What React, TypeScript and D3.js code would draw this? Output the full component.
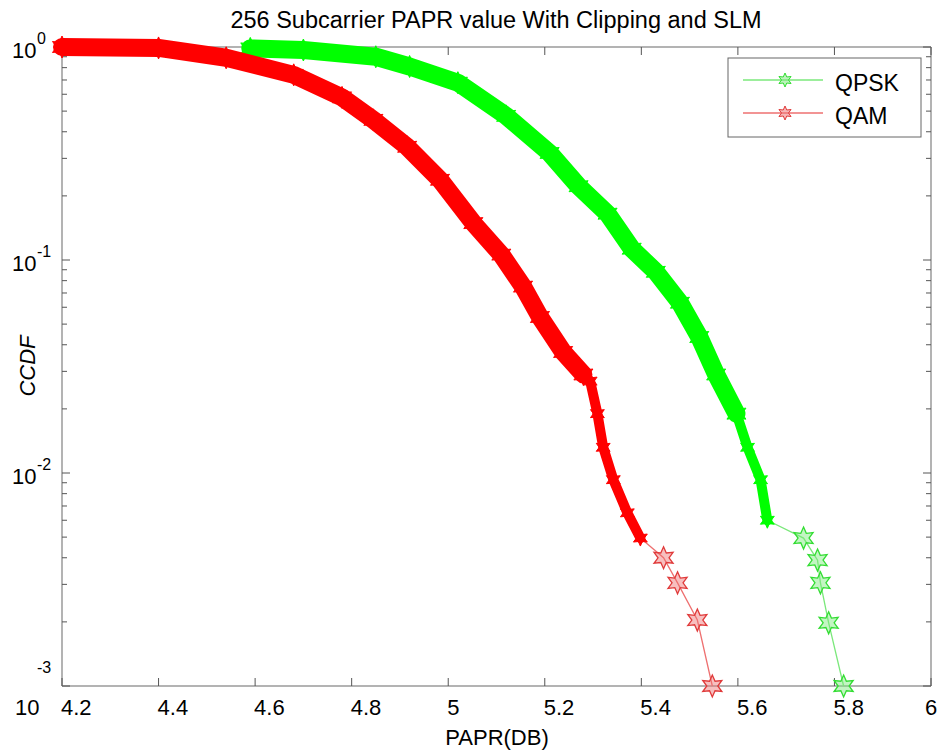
import React from "react";
import * as d3 from "d3";

const W = 938;
const H = 751;

const title = "256 Subcarrier PAPR value With Clipping and SLM";
const xLabel = "PAPR(DB)";
const yLabel = "CCDF";
const seriesNames = ["QPSK", "QAM"];

const xTicks = [4.2, 4.4, 4.6, 4.8, 5, 5.2, 5.4, 5.6, 5.8, 6];
const xTickLabels = ["4.2", "4.4", "4.6", "4.8", "5", "5.2", "5.4", "5.6", "5.8", "6"];
const yTicks = [1, 0.1, 0.01, 0.001];
const yExponents = ["0", "-1", "-2", "-3"];

// QPSK (green) – thick dense region, thinner dense region, sparse tail
const qpskDense: [number, number][] = [
  [4.59, 0.985], [4.7, 0.968], [4.85, 0.9], [4.92, 0.81], [5.02, 0.68],
  [5.12, 0.475], [5.21, 0.318], [5.27, 0.222], [5.33, 0.165], [5.38, 0.113],
  [5.43, 0.088], [5.48, 0.063], [5.52, 0.0435], [5.555, 0.029], [5.597, 0.019],
];
const qpskThin: [number, number][] = [
  [5.597, 0.019], [5.62, 0.0132], [5.647, 0.0093], [5.661, 0.006],
];
const qpskTail: [number, number][] = [
  [5.661, 0.006], [5.736, 0.00495], [5.765, 0.0039], [5.771, 0.00305],
  [5.788, 0.00198], [5.819, 0.001],
];

// QAM (red)
const qamDense: [number, number][] = [
  [4.2, 1.0], [4.4, 0.99], [4.54, 0.89], [4.68, 0.74], [4.78, 0.58],
  [4.845, 0.455], [4.915, 0.34], [4.983, 0.238], [5.052, 0.149], [5.11, 0.106],
  [5.155, 0.075], [5.19, 0.054], [5.238, 0.037], [5.28, 0.029],
];
const qamThin: [number, number][] = [
  [5.28, 0.029], [5.294, 0.027], [5.309, 0.019], [5.321, 0.0132], [5.342, 0.0093],
  [5.371, 0.0065], [5.398, 0.00495],
];
const qamTail: [number, number][] = [
  [5.398, 0.00495], [5.446, 0.004], [5.475, 0.00305], [5.516, 0.00204], [5.547, 0.001],
];

const GREEN = "#00ff00";
const RED = "#ff0000";

function hexagram(R: number): string {
  const pts: string[] = [];
  for (let i = 0; i < 12; i++) {
    const a = -Math.PI / 2 + (i * Math.PI) / 6;
    const r = i % 2 === 0 ? R : R * 0.5;
    pts.push(`${(r * Math.cos(a)).toFixed(2)},${(r * Math.sin(a)).toFixed(2)}`);
  }
  return "M" + pts.join("L") + "Z";
}

export default function App() {
  const x = d3.scaleLinear().domain([4.2, 6]).range([62, 931]);
  const y = d3.scaleLog().domain([1e-3, 1]).range([686, 47]);
  const line = d3
    .line<[number, number]>()
    .x((d) => x(d[0]))
    .y((d) => y(d[1]));

  const [x0, x1] = x.range();
  const [yb, yt] = y.range();
  const font = "'Liberation Sans', Arial, sans-serif";

  const minor: number[] = [];
  for (let e = -3; e < 0; e++) {
    for (let k = 2; k <= 9; k++) minor.push(k * Math.pow(10, e));
  }

  const series = [
    { dense: qpskDense, thin: qpskThin, tail: qpskTail, color: GREEN, tailLine: "#7be87b", tailMark: "#33dd33" },
    { dense: qamDense, thin: qamThin, tail: qamTail, color: RED, tailLine: "#ee7070", tailMark: "#e03a3a" },
  ];

  const bigStar = hexagram(11);
  const denseStar = hexagram(11);
  const thinStar = hexagram(8);
  const legStar = hexagram(7);

  return (
    <svg
      width={W}
      height={H}
      style={{ position: "absolute", left: 0, top: 0, background: "#fff" }}
      fontFamily={font}
    >
      <rect x={0} y={0} width={W} height={H} fill="#fff" />

      <g stroke="#9a9a9a" strokeWidth={1.5} fill="none">
        <line x1={x0} x2={x1} y1={yb} y2={yb} />
        <line x1={x0} x2={x1} y1={yt} y2={yt} />
        <line x1={x0} x2={x0} y1={yt} y2={yb} />
        <line x1={x1} x2={x1} y1={yt} y2={yb} />
      </g>

      <g stroke="#555" strokeWidth={1}>
        {xTicks.map((t) => (
          <g key={"xt" + t}>
            <line x1={x(t)} x2={x(t)} y1={yb} y2={yb - 8} />
            <line x1={x(t)} x2={x(t)} y1={yt} y2={yt + 8} />
          </g>
        ))}
        {yTicks.map((t) => (
          <g key={"yt" + t}>
            <line x1={x0} x2={x0 + 8} y1={y(t)} y2={y(t)} />
            <line x1={x1} x2={x1 - 8} y1={y(t)} y2={y(t)} />
          </g>
        ))}
        {minor.map((t) => (
          <g key={"ym" + t}>
            <line x1={x0} x2={x0 + 5} y1={y(t)} y2={y(t)} />
            <line x1={x1} x2={x1 - 5} y1={y(t)} y2={y(t)} />
          </g>
        ))}
      </g>

      <g fontSize={22} fill="#000">
        {xTicks.map((t, i) => (
          <text
            key={"xl" + t}
            x={i === xTicks.length - 1 ? x(t) - 6 : x(t) - 1}
            y={715}
            textAnchor="start"
          >
            {xTickLabels[i]}
          </text>
        ))}
      </g>

      <g fill="#000">
        {yTicks.map((t, i) => {
          const last = i === yTicks.length - 1;
          return (
            <g key={"yl" + t}>
              <text x={last ? 15 : 12} y={last ? 715 : y(t) + 11} fontSize={22}>
                10
              </text>
              <text x={37} y={last ? y(t) - 13 : y(t) - 3} fontSize={16}>
                {yExponents[i]}
              </text>
            </g>
          );
        })}
      </g>

      {series.map((s, si) => (
        <g key={"s" + si}>
          <path d={line(s.tail) || ""} fill="none" stroke={s.tailLine} strokeWidth={1.3} />
          {s.tail.slice(1).map((d, i) => (
            <path
              key={"tm" + i}
              d={bigStar}
              transform={`translate(${x(d[0])},${y(d[1])})`}
              fill={s.tailLine}
              fillOpacity={0.45}
              stroke={s.tailMark}
              strokeWidth={1.3}
            />
          ))}
          <path
            d={line(s.thin) || ""}
            fill="none"
            stroke={s.color}
            strokeWidth={10}
            strokeLinejoin="round"
            strokeLinecap="round"
          />
          {s.thin.map((d, i) => (
            <path
              key={"tn" + i}
              d={thinStar}
              transform={`translate(${x(d[0])},${y(d[1])})`}
              fill={s.color}
              stroke={s.color}
              strokeWidth={1}
            />
          ))}
          <path
            d={line(s.dense) || ""}
            fill="none"
            stroke={s.color}
            strokeWidth={18}
            strokeLinejoin="round"
            strokeLinecap="round"
          />
          {s.dense.map((d, i) => (
            <path
              key={"dm" + i}
              d={denseStar}
              transform={`translate(${x(d[0])},${y(d[1])})`}
              fill={s.color}
              stroke={s.color}
              strokeWidth={1}
            />
          ))}
        </g>
      ))}

      <g>
        <rect x={728} y={58} width={193} height={79} fill="#fff" stroke="#666" strokeWidth={1} />
        {series.map((s, i) => {
          const ly = 80 + i * 33;
          return (
            <g key={"lg" + i}>
              <line x1={743} x2={823} y1={ly} y2={ly} stroke={s.tailLine} strokeWidth={1.5} />
              <path
                d={legStar}
                transform={`translate(785,${ly})`}
                fill={s.tailLine}
                fillOpacity={0.5}
                stroke={s.tailMark}
                strokeWidth={1}
              />
              <text x={835} y={ly + 11} fontSize={23} fill="#000">
                {seriesNames[i]}
              </text>
            </g>
          );
        })}
      </g>

      <text x={496} y={28} fontSize={23.5} textAnchor="middle" fill="#000">
        {title}
      </text>
      <text x={497} y={745} fontSize={22} textAnchor="middle" fill="#000">
        {xLabel}
      </text>
      <text
        x={0}
        y={0}
        transform="translate(35,366) rotate(-90)"
        fontSize={22}
        fontStyle="italic"
        textAnchor="middle"
        fill="#000"
      >
        {yLabel}
      </text>
    </svg>
  );
}
